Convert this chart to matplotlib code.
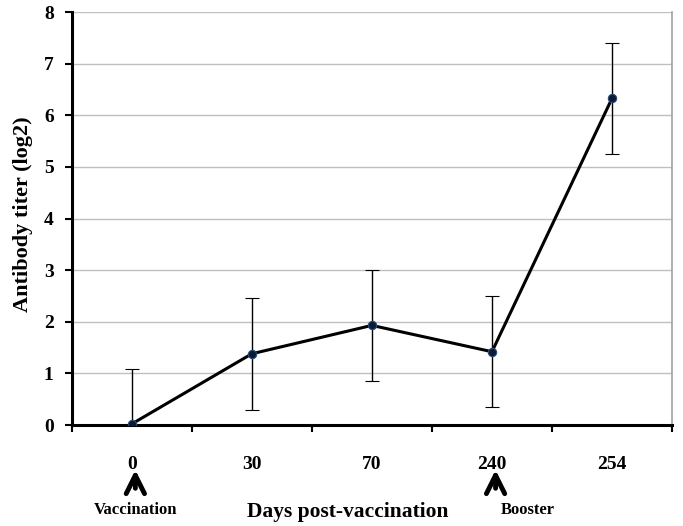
import matplotlib.pyplot as plt
import numpy as np

days = ['0', '30', '70', '240', '254']
titer = [0.02, 1.38, 1.93, 1.42, 6.33]
err = [1.06, 1.08, 1.08, 1.08, 1.07]
events = {'Vaccination': 0, 'Booster': 3}

plt.rcParams['font.family'] = ['Liberation Serif', 'DejaVu Serif']
plt.rcParams['font.weight'] = 'bold'

fig = plt.figure(figsize=(6.83, 5.26), dpi=100)
ax = fig.add_axes([0.105, 0.192, 0.879, 0.785])

x = np.arange(len(days))
ax.errorbar(x, titer, yerr=err, color='black', lw=2.2, ecolor='black',
            elinewidth=1, capsize=5, capthick=1, marker='o', ms=6,
            mfc='#0d1a33', mec='#2a4d7a', mew=0.8, zorder=3)

ax.set_xlim(-0.5, len(days) - 0.5)
ax.set_ylim(0, 8)
ax.set_yticks(range(0, 9))
ax.grid(axis='y', color='#c0c0c0', lw=1)
ax.set_axisbelow(True)

ax.set_xticks(x)
ax.set_xticklabels(days, fontsize=14, fontweight='bold')
ax.tick_params(axis='x', which='major', length=0, pad=22)
ax.set_xticks(np.arange(-0.5, len(days)), minor=True)
ax.tick_params(axis='x', which='minor', length=5, width=1.5, direction='out')
ax.tick_params(axis='y', length=5, width=1.5, direction='out', labelsize=14, pad=8)
for lab in ax.get_yticklabels():
    lab.set_fontweight('bold')

for s in ['left', 'bottom']:
    ax.spines[s].set_linewidth(2.2)
ax.spines['top'].set_visible(False)
ax.spines['right'].set_color('#a0a0a0')
ax.spines['right'].set_linewidth(1.2)

ax.set_ylabel('Antibody titer (log2)', fontsize=16, fontweight='bold')
ax.yaxis.set_label_coords(-0.064, 0.51)

tr = ax.get_xaxis_transform()
for name, pos in events.items():
    ax.annotate('', xy=(pos + 0.03, -0.102), xytext=(pos + 0.03, -0.16),
                xycoords=tr, textcoords=tr,
                arrowprops=dict(arrowstyle='->,head_length=0.6,head_width=0.3',
                                lw=3.5, color='black', mutation_scale=22),
                annotation_clip=False)
    off = 0.03 if pos == 0 else 0.3
    ax.text(pos + off, -0.205, name, transform=tr, ha='center', va='center',
            fontsize=12, fontweight='bold')
ax.text(1.8, -0.21, 'Days post-vaccination', transform=tr, ha='center', va='center',
        fontsize=15.5, fontweight='bold')

fig.savefig('out.png', dpi=100)
